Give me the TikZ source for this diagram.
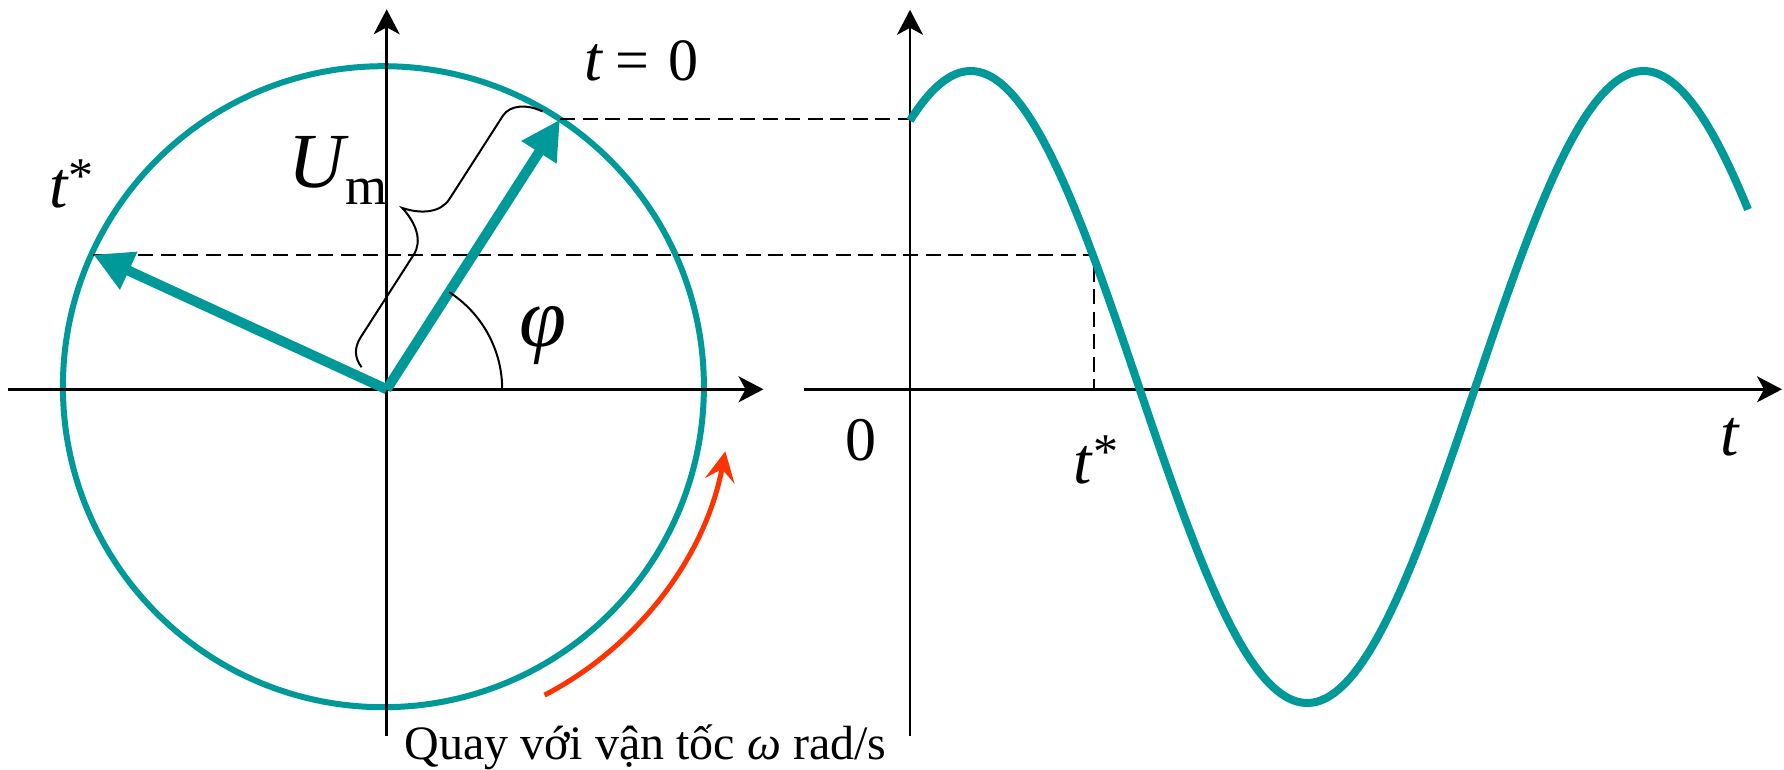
\documentclass[tikz,border=0pt]{standalone}
\usepackage{fontspec}
\setmainfont{Liberation Serif}
\usetikzlibrary{arrows.meta,calc}
\definecolor{tealc}{RGB}{0,153,153}
\definecolor{redc}{RGB}{255,51,0}
\newcommand\myfs[1]{\fontsize{#1pt}{#1pt}\selectfont}
\begin{document}
\begin{tikzpicture}[x=1pt,y=-1pt,
  axis/.style={line width=2.5pt,-{Stealth[length=25pt,width=26pt,inset=7pt]}},
  vec/.style={tealc,line width=10pt,-{Triangle[length=39pt,width=39pt]}},
  guide/.style={line width=2pt,dash pattern=on 15pt off 7.5pt},
  thinline/.style={line width=2pt},
  lbl/.style={inner sep=0pt,anchor=base west},
]
\useasboundingbox (0,0) rectangle (1784,770);
\coordinate (O) at (386.7,389.3);
\coordinate (C) at (383.4,386.7);
\coordinate (T1) at (560,119.5);
\coordinate (T2) at (93.3,254.5);
\coordinate (P1) at (910,119.5);
\coordinate (Q) at (1093.7,254.5);
\coordinate (Qx) at (1093.7,389.3);
\coordinate (xl0) at (7.5,389.3);
\coordinate (xl1) at (763.5,389.3);
\coordinate (yl0) at (386.7,736.4);
\coordinate (yl1) at (386.7,9.3);
\coordinate (xr0) at (804,389.3);
\coordinate (xr1) at (1782,389.3);
\coordinate (yr0) at (910,736.4);
\coordinate (yr1) at (910,9.8);
\coordinate (RS) at (544.6,695.1);
\coordinate (RE) at (725.3,451.3);

% circle
\draw[tealc,line width=6pt] (C) circle[radius=320.5];

% axes
\draw[axis] (xl0) -- (xl1);
\draw[axis] (yl0) -- (yl1);
\draw[axis] (xr0) -- (xr1);
\draw[axis] (yr0) -- (yr1);

% guides
\draw[guide] (T1) -- (P1);
\draw[guide] (T2) -- (Q) -- (Qx);

% sine
\draw[tealc,line width=8pt] plot[domain=910:1748,samples=220] (\x,{387-316*sin(57.5+(\x-910)*0.535)});

% vectors
\draw[vec] (O) -- (T1);
\draw[vec] (O) -- (T2);

% angle arc
\draw[thinline] plot[domain=0:57.3,samples=40] ({386.7+115.5*cos(\x)},{389.3-115.5*sin(\x)});

% brace
\begin{scope}[shift={(O)},rotate=57.3]
\draw[thinline] (5,-33) .. controls (9,-44) and (17,-50) .. (30,-50) -- (128,-50)
  .. controls (144,-50) and (156,-65) .. (161,-85)
  .. controls (166,-65) and (178,-50) .. (194,-50) -- (293,-50)
  .. controls (306,-50) and (316,-36) .. (318,-19);
\end{scope}

% red rotation arrow
\draw[redc,line width=5pt,-{Stealth[length=30pt,width=30pt,inset=12pt]}] (RS) .. controls (639,645.8) and (705.5,555.9) .. (RE);

% labels
\node[lbl] (tzero) at (584.2,80.5) {\myfs{64}\textit{t}\hspace{11.7pt}\myfs{60}=\hspace{20pt}0};
\node[lbl] (tstarL) at (49.1,207.9) {\myfs{66}\textit{t}\raisebox{15pt}{\myfs{50}*}};
\node[lbl] (Um) at (288,188) {\myfs{78}\textit{U}\hspace{-3.2pt}\raisebox{-17pt}{\myfs{54}m}};
\node[lbl] (phi) at (519,346) {\myfs{85}\textit{φ}};
\node[lbl] (zero) at (845.5,460.6) {\myfs{62}0};
\node[lbl] (tstarR) at (1073.6,483) {\myfs{66}\textit{t}\raisebox{15pt}{\myfs{50}*}};
\node[lbl] (tax) at (1720,455.8) {\myfs{66}\textit{t}};
\node[lbl] (quay) at (404.4,759) {\myfs{48}Quay với vận tốc \textit{ω} rad/s};
\end{tikzpicture}
\end{document}
